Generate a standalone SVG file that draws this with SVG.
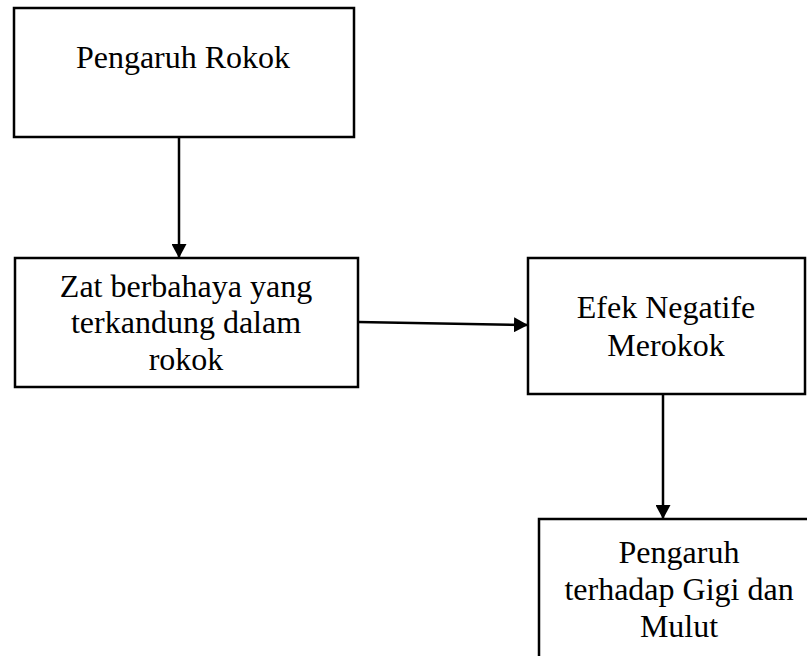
<svg xmlns="http://www.w3.org/2000/svg" width="807" height="656" viewBox="0 0 807 656">
  <style>
    .box { fill: #ffffff; stroke: #000000; stroke-width: 2.5; }
    .lbl { font-family: "Liberation Serif", "Times New Roman", serif; font-size: 32px; fill: #000000; text-anchor: middle; }
    .conn { stroke: #000000; stroke-width: 2.5; fill: none; marker-end: url(#arrow); }
  </style>
  <defs>
    <marker id="arrow" viewBox="0 0 14 15" refX="14" refY="7.5" markerWidth="14" markerHeight="15" markerUnits="userSpaceOnUse" orient="auto">
      <path d="M0,0 L14,7.5 L0,15 z" fill="#000000"/>
    </marker>
  </defs>
  <rect x="0" y="0" width="807" height="656" fill="#ffffff"/>
  <g id="connectors">
    <line class="conn" x1="179" y1="137" x2="179" y2="258"/>
    <line class="conn" x1="358" y1="322" x2="528" y2="325"/>
    <line class="conn" x1="663" y1="394" x2="663" y2="519"/>
  </g>
  <g id="node-pengaruh-rokok">
    <rect class="box" x="14" y="8" width="340" height="129"/>
    <text class="lbl" x="183" y="68">Pengaruh Rokok</text>
  </g>
  <g id="node-zat-berbahaya">
    <rect class="box" x="15" y="258" width="343" height="129"/>
    <text class="lbl" x="186" y="297">Zat berbahaya yang</text>
    <text class="lbl" x="186" y="333">terkandung dalam</text>
    <text class="lbl" x="186" y="370">rokok</text>
  </g>
  <g id="node-efek-negatife">
    <rect class="box" x="528" y="258" width="277" height="136"/>
    <text class="lbl" x="666" y="318">Efek Negatife</text>
    <text class="lbl" x="666" y="356">Merokok</text>
  </g>
  <g id="node-gigi-mulut">
    <rect class="box" x="539" y="519" width="300" height="200"/>
    <text class="lbl" x="679" y="563">Pengaruh</text>
    <text class="lbl" x="679" y="600">terhadap Gigi dan</text>
    <text class="lbl" x="679" y="637">Mulut</text>
  </g>
</svg>
